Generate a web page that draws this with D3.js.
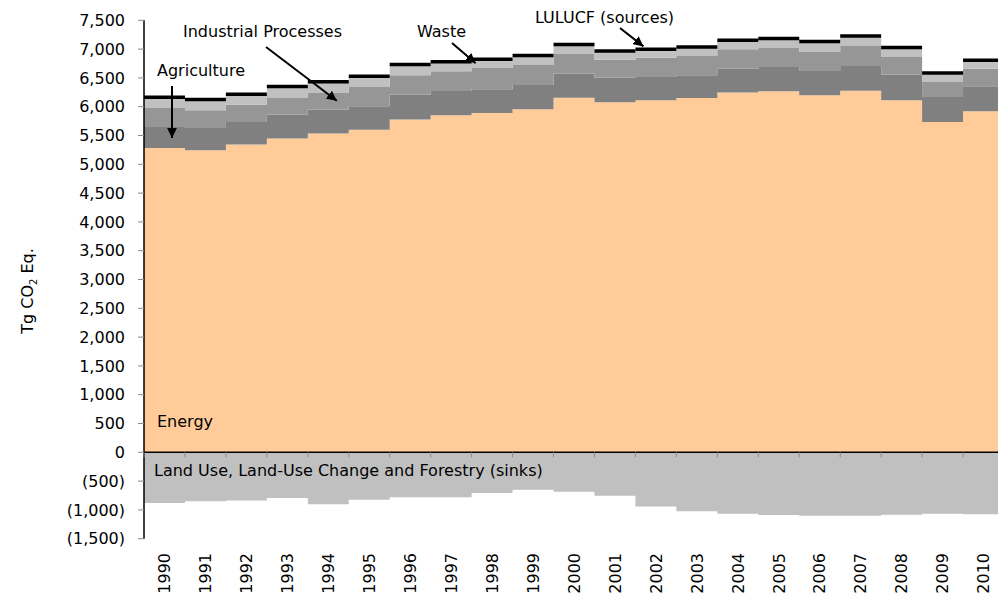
<!DOCTYPE html>
<html lang="en">
<head>
<meta charset="UTF-8">
<title>Emissions by sector</title>
<style>
  body { margin:0; background:#fff; }
  svg { display:block; font-family:"DejaVu Sans", Verdana, sans-serif; }
</style>
</head>
<body>
<script src="https://d3js.org/d3.v7.min.js"></script>
<script>
var years = ['1990','1991','1992','1993','1994','1995','1996','1997','1998','1999','2000',
             '2001','2002','2003','2004','2005','2006','2007','2008','2009','2010'];

// Tg CO2 Eq.
var energy      = [5283,5243,5342,5446,5533,5602,5776,5851,5891,5955,6155,6078,6111,6151,6245,6267,6198,6279,6111,5734,5920];
var agriculture = [ 365, 387, 392, 417, 417, 405, 434, 422, 411, 422, 420, 427, 405, 394, 416, 423, 422, 428, 446, 434, 434];
var industrial  = [ 329, 308, 302, 288, 288, 335, 335, 342, 370, 347, 347, 312, 336, 336, 336, 329, 330, 347, 306, 261, 307];
var waste       = [ 172, 171, 165, 185, 180, 172, 170, 148, 137, 147, 140, 132, 127, 136, 136, 145, 160, 150, 141, 136, 125];
var lulucfSrc   = [  14,  14,  14,  14,  14,  14,  16,  16,  16,  16,  18,  18,  18,  20,  20,  22,  24,  24,  22,  20,  20];
var sinks       = [-880,-850,-835,-795,-900,-825,-780,-780,-705,-652,-685,-755,-940,-1025,-1065,-1088,-1100,-1100,-1083,-1065,-1075];

var yTicks = [-1500,-1000,-500,0,500,1000,1500,2000,2500,3000,3500,4000,4500,5000,5500,6000,6500,7000,7500];

var width = 998, height = 595;
var svg = d3.select('body').append('svg')
    .attr('width', width)
    .attr('height', height);

var x = d3.scaleBand().domain(years).range([144, 1004]);
var y = d3.scaleLinear().domain([-1500, 7500]).range([538.7, 20.3]);
var bw = x.bandwidth();
var last = years[years.length - 1];

var rows = years.map(function(yr, i) {
    return {year: yr, energy: energy[i], agriculture: agriculture[i],
            industrial: industrial[i], waste: waste[i], lulucf: lulucfSrc[i], sinks: sinks[i]};
});

var keys = ['energy', 'agriculture', 'industrial', 'waste'];
var colors = {energy: '#ffcc99', agriculture: '#808080', industrial: '#969696', waste: '#c0c0c0'};
var stacked = d3.stack().keys(keys)(rows);

var area = d3.area()
    .curve(d3.curveStepAfter)
    .x(function(d) { return d.x; })
    .y0(function(d) { return y(d.v0); })
    .y1(function(d) { return y(d.v1); });

function stepPoints(arr) {
    var pts = arr.map(function(d) { return {x: x(d.year), v0: d.v0, v1: d.v1}; });
    var end = arr[arr.length - 1];
    pts.push({x: x(end.year) + bw, v0: end.v0, v1: end.v1});
    return pts;
}

stacked.forEach(function(s) {
    var arr = s.map(function(d) { return {year: d.data.year, v0: d[0], v1: d[1]}; });
    svg.append('path')
       .attr('d', area(stepPoints(arr)))
       .attr('fill', colors[s.key]);
});

// sinks below zero
svg.append('path')
   .attr('d', area(stepPoints(rows.map(function(d) { return {year: d.year, v0: 0, v1: d.sinks}; }))))
   .attr('fill', '#c0c0c0');

// LULUCF sources: thick black cap on each year
svg.selectAll('line.cap')
   .data(rows)
   .enter()
   .append('line')
   .attr('class', 'cap')
   .attr('x1', function(d) { return x(d.year); })
   .attr('x2', function(d) { return x(d.year) + bw; })
   .attr('y1', function(d) { return y(d.energy + d.agriculture + d.industrial + d.waste + d.lulucf); })
   .attr('y2', function(d) { return y(d.energy + d.agriculture + d.industrial + d.waste + d.lulucf); })
   .attr('stroke', '#000')
   .attr('stroke-width', 3.5);

// y axis
var yAxis = svg.append('g');
yAxis.append('line')
     .attr('x1', 144).attr('x2', 144)
     .attr('y1', y(7500)).attr('y2', y(-1500))
     .attr('stroke', '#000').attr('stroke-width', 1.5);
yAxis.selectAll('line.tick')
     .data(yTicks)
     .enter()
     .append('line')
     .attr('class', 'tick')
     .attr('x1', 138).attr('x2', 144)
     .attr('y1', function(d) { return y(d); })
     .attr('y2', function(d) { return y(d); })
     .attr('stroke', '#8c8c8c');
var fmt = d3.format(',');
yAxis.selectAll('text')
     .data(yTicks)
     .enter()
     .append('text')
     .attr('x', 125)
     .attr('y', function(d) { return y(d); })
     .attr('dy', '0.36em')
     .attr('text-anchor', 'end')
     .attr('font-size', 16)
     .attr('fill', '#000')
     .text(function(d) { return d < 0 ? '(' + fmt(-d) + ')' : fmt(d); });

// x axis at zero
var xAxis = svg.append('g');
xAxis.append('line')
     .attr('x1', 144).attr('x2', 1004)
     .attr('y1', y(0)).attr('y2', y(0))
     .attr('stroke', '#000').attr('stroke-width', 1.5);
xAxis.selectAll('line.tick')
     .data(years.concat([null]))
     .enter()
     .append('line')
     .attr('class', 'tick')
     .attr('x1', function(d) { return d === null ? x(last) + bw : x(d); })
     .attr('x2', function(d) { return d === null ? x(last) + bw : x(d); })
     .attr('y1', y(0)).attr('y2', y(0) + 5)
     .attr('stroke', '#8c8c8c');
xAxis.selectAll('text')
     .data(years)
     .enter()
     .append('text')
     .attr('transform', function(d) { return 'translate(' + (x(d) + bw / 2) + ',553) rotate(-90)'; })
     .attr('text-anchor', 'end')
     .attr('dy', '0.36em')
     .attr('font-size', 16)
     .text(function(d) { return d; });

// axis title
var title = svg.append('text')
    .attr('transform', 'translate(27,291) rotate(-90)')
    .attr('text-anchor', 'middle')
    .attr('dy', '0.36em')
    .attr('font-size', 16);
title.append('tspan').text('Tg CO');
title.append('tspan').attr('font-size', 10).attr('dy', 4).text('2');
title.append('tspan').attr('dy', -4).text(' Eq.');

// labels and arrows
svg.append('defs').append('marker')
   .attr('id', 'head')
   .attr('viewBox', '0 0 10 10')
   .attr('refX', 10).attr('refY', 5)
   .attr('markerWidth', 5).attr('markerHeight', 5)
   .attr('markerUnits', 'strokeWidth')
   .attr('orient', 'auto')
   .append('path')
   .attr('d', 'M0,0 L10,5 L0,10 z')
   .attr('fill', '#000');

var labels = [
    {text: 'Agriculture', x: 157, y: 76},
    {text: 'Industrial Processes', x: 183, y: 37},
    {text: 'Waste', x: 417, y: 37},
    {text: 'LULUCF (sources)', x: 535, y: 23},
    {text: 'Energy', x: 157, y: 427},
    {text: 'Land Use, Land-Use Change and Forestry (sinks)', x: 154, y: 476}
];
svg.selectAll('text.lbl')
   .data(labels)
   .enter()
   .append('text')
   .attr('class', 'lbl')
   .attr('x', function(d) { return d.x; })
   .attr('y', function(d) { return d.y; })
   .attr('font-size', 16)
   .text(function(d) { return d.text; });

var arrows = [
    {x1: 172, y1: 86, x2: x('1990') + 28, y2: y(energy[0] + agriculture[0] * 0.48)},
    {x1: 266, y1: 47, x2: x('1994') + 29, y2: y(energy[4] + agriculture[4] + industrial[4] * 0.53)},
    {x1: 452, y1: 43, x2: x('1998') + 4, y2: y(energy[8] + agriculture[8] + industrial[8] + waste[8] * 0.6)},
    {x1: 620, y1: 28, x2: x('2002') + 8, y2: y(energy[12] + agriculture[12] + industrial[12] + waste[12] + lulucfSrc[12] + 50)}
];
svg.selectAll('line.arrow')
   .data(arrows)
   .enter()
   .append('line')
   .attr('class', 'arrow')
   .attr('x1', function(d) { return d.x1; })
   .attr('y1', function(d) { return d.y1; })
   .attr('x2', function(d) { return d.x2; })
   .attr('y2', function(d) { return d.y2; })
   .attr('stroke', '#000')
   .attr('stroke-width', 2)
   .attr('marker-end', 'url(#head)');
</script>
</body>
</html>
